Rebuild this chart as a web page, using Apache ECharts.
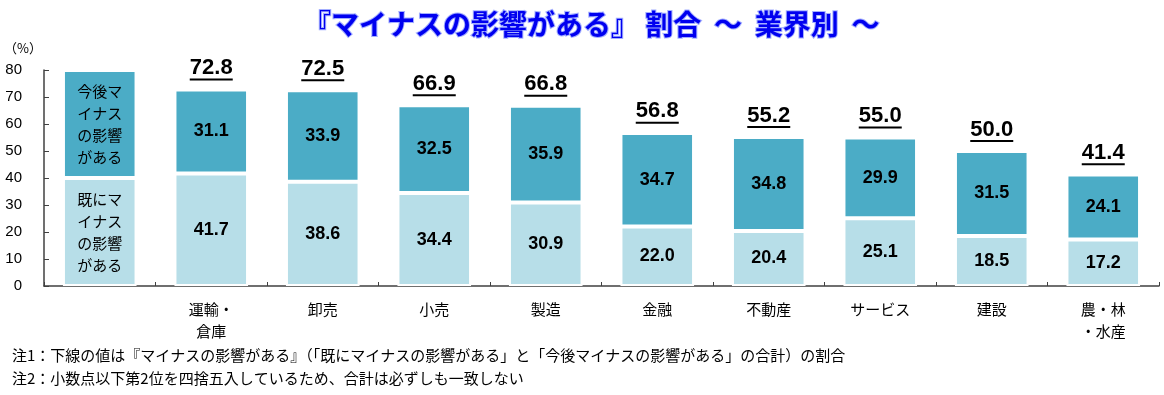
<!DOCTYPE html>
<html>
<head>
<meta charset="utf-8">
<script src="https://cdn.jsdelivr.net/npm/echarts@6/dist/echarts.min.js"></script>
<style>
html,body{margin:0;padding:0;background:#fff;}
#chart{width:1164px;height:395px;}
</style>
</head>
<body>
<div id="chart"></div>
<script>
const categories = ['', '運輸・\n倉庫', '卸売', '小売', '製造', '金融', '不動産', 'サービス', '建設', '農・林\n・水産'];
const alreadyValues = [40, 41.7, 38.6, 34.4, 30.9, 22.0, 20.4, 25.1, 18.5, 17.2];
const futureValues = [40, 31.1, 33.9, 32.5, 35.9, 34.7, 34.8, 29.9, 31.5, 24.1];
const totalValues = ['-', 72.8, 72.5, 66.9, 66.8, 56.8, 55.2, 55.0, 50.0, 41.4];
const legendAlready = ['既にマ', 'イナス', 'の影響', 'がある'];
const legendFuture = ['今後マ', 'イナス', 'の影響', 'がある'];
const yTicks = [0, 10, 20, 30, 40, 50, 60, 70, 80];
const titleText = '『マイナスの影響がある』 割合  ～  業界別  ～';
const note1 = '注1：下線の値は『マイナスの影響がある』（「既にマイナスの影響がある」と「今後マイナスの影響がある」の合計）の割合';
const note2 = '注2：小数点以下第2位を四捨五入しているため、合計は必ずしも一致しない';

const CJK = '"Noto Sans CJK JP", "Noto Sans", sans-serif';
const NUM = '"Liberation Sans", Arial, sans-serif';

function segLabel(legendLines) {
  return function (p) {
    if (p.dataIndex === 0) {
      return legendLines.map(s => '{leg|' + s + '}').join('\n');
    }
    return '{v|' + Number(p.value).toFixed(1) + '}';
  };
}
const segRich = {
  leg: { fontFamily: CJK, fontSize: 15, lineHeight: 22, color: '#000', fontWeight: 'normal' },
  v: { fontFamily: NUM, fontSize: 18, fontWeight: 'bold', color: '#000' }
};

const chart = echarts.init(document.getElementById('chart'));
chart.setOption({
  animation: false,
  backgroundColor: '#fff',
  title: {
    text: titleText,
    left: 298, top: 5,
    textStyle: {
      fontFamily: CJK, fontSize: 28, fontWeight: 'bold', color: '#0000F0',
      textBorderColor: 'rgba(90,110,255,0.55)', textBorderWidth: 2
    }
  },
  graphic: [
    { type: 'text', left: 4, top: 42, style: { text: '（%）', font: '13px ' + CJK, fill: '#000' } },
    { type: 'text', left: 12, top: 348, style: { text: note1, font: '15px ' + CJK, fill: '#000' } },
    { type: 'text', left: 12, top: 371, style: { text: note2, font: '15px ' + CJK, fill: '#000' } }
  ],
  grid: { left: 44, right: 5, top: 70, bottom: 109, containLabel: false },
  xAxis: {
    type: 'category',
    data: categories,
    boundaryGap: true,
    axisLine: { lineStyle: { color: '#404040', width: 1.5 } },
    axisTick: { show: true, inside: true, length: 4, lineStyle: { color: '#404040' } },
    axisLabel: { fontFamily: CJK, fontSize: 15, color: '#000', lineHeight: 22, margin: 12, interval: 0 }
  },
  yAxis: {
    type: 'value',
    min: yTicks[0], max: yTicks[yTicks.length - 1], interval: 10,
    axisLine: { show: true, lineStyle: { color: '#404040', width: 1.5 } },
    axisTick: { show: true, inside: true, length: 5, lineStyle: { color: '#404040' } },
    splitLine: { show: false },
    axisLabel: { fontFamily: NUM, fontSize: 15, color: '#000', margin: 22 }
  },
  series: [
    {
      name: '既にマイナスの影響がある',
      type: 'bar', stack: 'total',
      data: alreadyValues,
      barCategoryGap: '34%',
      itemStyle: { color: '#B7DEE8', borderColor: '#fff', borderWidth: 2 },
      label: { show: true, position: 'inside', formatter: segLabel(legendAlready), rich: segRich }
    },
    {
      name: '今後マイナスの影響がある',
      type: 'bar', stack: 'total',
      data: futureValues,
      barCategoryGap: '34%',
      itemStyle: { color: '#4BACC6', borderColor: '#fff', borderWidth: 2 },
      label: { show: true, position: 'inside', formatter: segLabel(legendFuture), rich: segRich }
    },
    {
      name: '合計',
      type: 'scatter',
      data: totalValues,
      symbolSize: 0,
      silent: true,
      itemStyle: { opacity: 1 },
      label: {
        show: true, position: 'top', distance: 9,
        formatter: p => '{t|' + Number(p.value).toFixed(1) + '}\n{u|}',
        rich: {
          t: { fontFamily: NUM, fontSize: 22, fontWeight: 'bold', color: '#000', lineHeight: 21, align: 'center' },
          u: { width: 43, height: 2, backgroundColor: '#000', align: 'center' }
        }
      }
    }
  ]
});
</script>
</body>
</html>
